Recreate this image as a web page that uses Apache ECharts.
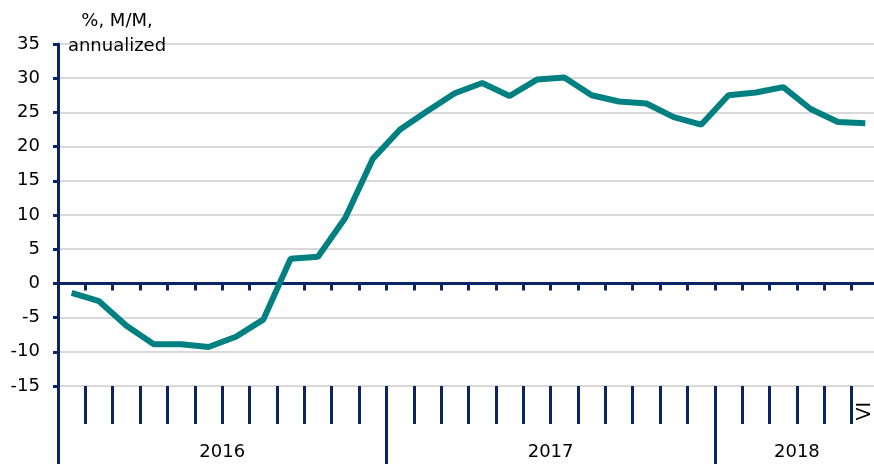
<!DOCTYPE html>
<html>
<head>
<meta charset="utf-8">
<script src="https://cdn.jsdelivr.net/npm/echarts@6/dist/echarts.min.js"></script>
<style>
  html, body { margin: 0; padding: 0; background: #fff; }
  #chart { width: 874px; height: 464px; }
</style>
</head>
<body>
<div id="chart"></div>
<script>
// monthly data, Jan 2016 .. Jun 2018
const months = [
  'I', 'II', 'III', 'IV', 'V', 'VI', 'VII', 'VIII', 'IX', 'X', 'XI', 'XII',
  'I', 'II', 'III', 'IV', 'V', 'VI', 'VII', 'VIII', 'IX', 'X', 'XI', 'XII',
  'I', 'II', 'III', 'IV', 'V', 'VI',
];
const values = [
  -1.4, -2.6, -6.2, -8.9, -8.9, -9.3, -7.8, -5.3, 3.6, 3.9, 9.6, 18.2,
  22.5, 25.2, 27.8, 29.3, 27.4, 29.8, 30.1, 27.5, 26.6, 26.3, 24.3, 23.2,
  27.5, 27.9, 28.7, 25.5, 23.6, 23.4,
];
const years = ['2016', '2017', '2018'];
const monthsPerYear = [12, 12, 6];
const yTicks = [-15, 35, 5]; // min, max, step

const navy = '#0a2466';
const font = 'DejaVu Sans';

// year boundaries and centres in month units
const yearStarts = [];
const yearMids = [];
let acc = 0;
monthsPerYear.forEach((n) => {
  yearStarts.push(acc);
  yearMids.push(acc + n / 2);
  acc += n;
});

const chart = echarts.init(document.getElementById('chart'));

const option = {
  animation: false,
  title: {
    text: '%, M/M,\nannualized',
    left: 112,
    top: 4,
    textAlign: 'center',
    textStyle: {
      fontFamily: font, fontSize: 18, fontWeight: 'normal', color: '#000', lineHeight: 25,
    },
  },
  grid: {
    left: 58, width: 821, top: 44, bottom: 78, outerBoundsMode: 'none',
  },
  xAxis: [
    {
      // zero line with short ticks
      type: 'category',
      data: months,
      boundaryGap: true,
      axisLine: { onZero: true, lineStyle: { color: navy, width: 3 } },
      axisTick: { show: true, interval: 0, length: 7, lineStyle: { color: navy, width: 3 } },
      axisLabel: { show: false },
      splitLine: { show: false },
    },
    {
      // month ticks below the plot
      type: 'category',
      data: months,
      boundaryGap: true,
      position: 'bottom',
      axisLine: { show: false, onZero: false },
      axisTick: { show: true, interval: 0, length: 38, lineStyle: { color: navy, width: 3 } },
      axisLabel: {
        interval: (idx) => idx === months.length - 1,
        rotate: 90,
        margin: 16,
        fontFamily: font,
        fontSize: 19,
        color: '#000',
      },
      splitLine: { show: false },
    },
    {
      // years
      type: 'value',
      min: 0,
      max: months.length,
      position: 'bottom',
      axisLine: { show: false, onZero: false },
      axisTick: {
        show: true,
        customValues: yearStarts,
        length: 78,
        lineStyle: { color: navy, width: 3 },
      },
      axisLabel: {
        customValues: yearMids,
        formatter: (v) => years[yearMids.indexOf(v)],
        margin: 57,
        fontFamily: font,
        fontSize: 18,
        color: '#000',
      },
      splitLine: { show: false },
    },
  ],
  yAxis: {
    type: 'value',
    min: yTicks[0],
    max: yTicks[1],
    interval: yTicks[2],
    axisLine: { show: true, lineStyle: { color: navy, width: 3 } },
    axisTick: { show: true, length: 5, lineStyle: { color: navy, width: 3 } },
    axisLabel: {
      margin: 18, fontFamily: font, fontSize: 18, color: '#000',
    },
    splitLine: { show: true, lineStyle: { color: '#d9d9d9', width: 2 } },
  },
  series: [
    {
      type: 'line',
      xAxisIndex: 0,
      data: values,
      symbol: 'none',
      lineStyle: { color: '#008080', width: 6 },
    },
  ],
};

chart.setOption(option);
</script>
</body>
</html>
